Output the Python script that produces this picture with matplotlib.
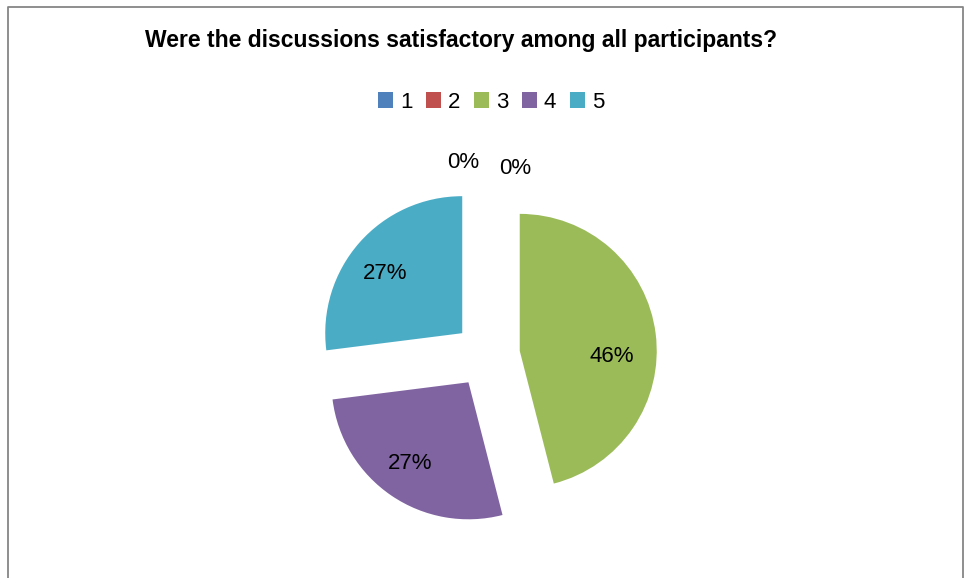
import matplotlib.pyplot as plt

# survey answers (share of responses, %)
ratings = ["1", "2", "3", "4", "5"]
shares = [0, 0, 46, 27, 27]
colors = ["#4F81BD", "#C0504D", "#9BBB59", "#8064A2", "#4BACC6"]
explode = [0, 0, 33, 33, 33]  # pie() offsets in data units (pixels here)

plt.rcParams['font.family'] = ['Liberation Sans', 'DejaVu Sans']

fig = plt.figure(figsize=(9.65, 5.78), dpi=100)
ax = fig.add_axes([0, 0, 1, 1])
# axes in pixel units so the pie sits where it does in the original
ax.set_xlim(0, 965)
ax.set_ylim(0, 578)
ax.set_aspect('equal')
ax.axis('off')

wedges, texts, autotexts = ax.pie(
    shares, colors=colors, explode=explode, startangle=90, counterclock=False,
    center=(487, 223), radius=137, autopct='%1.0f%%', pctdistance=0.7,
    textprops={'fontsize': 16, 'color': 'black'}, frame=True)

# the two empty slices get their labels pushed apart above the pie
autotexts[0].set_position((463, 578 - 162))
autotexts[1].set_position((515, 578 - 168))
# Excel puts the big slice's label a bit lower than the mid-angle
x, y = autotexts[2].get_position()
autotexts[2].set_position((x - 3, y - 18))
x, y = autotexts[4].get_position()
autotexts[4].set_position((x - 5, y - 4))
x, y = autotexts[3].get_position()
autotexts[3].set_position((x - 4, y - 2))

ax.set_xlim(0, 965)
ax.set_ylim(0, 578)
ax.axis('off')

# chart frame (bottom edge is cut off in the original)
ax.plot([7.5, 7.5, 963, 963], [0, 571, 571, 0], color='#868686', lw=1.3,
        clip_on=False)

fig.text(461 / 965, 1 - 40 / 578, "Were the discussions satisfactory among all participants?",
         ha='center', va='center', fontsize=16.5, fontweight='bold')

ax.legend(wedges, ratings, ncol=5, loc='center', bbox_to_anchor=(491 / 965, 1 - 102 / 578),
          frameon=False, fontsize=16, handlelength=0.7, handleheight=0.7,
          handletextpad=0.3, columnspacing=0.6)

fig.savefig("out.png", dpi=100)
